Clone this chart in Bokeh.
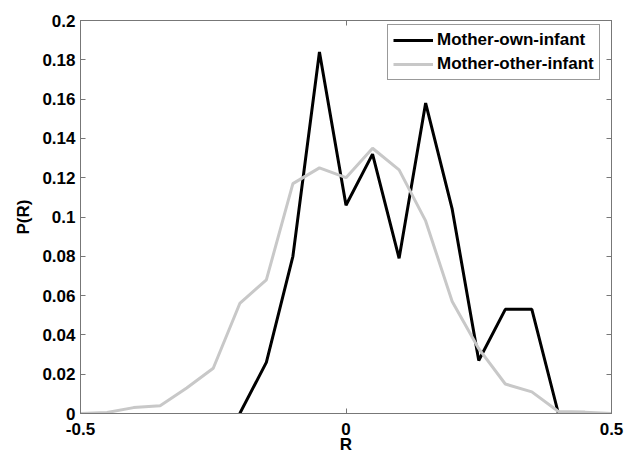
from bokeh.plotting import figure
from bokeh.models import Range1d, LinearAxis, FixedTicker, Legend, LegendItem
from bokeh.embed import file_html
from bokeh.resources import INLINE

# Data
r_own = [-0.2, -0.15, -0.1, -0.05, 0.0, 0.05, 0.1, 0.15, 0.2, 0.25, 0.3, 0.35, 0.4, 0.45]
p_own = [0.0, 0.026, 0.080, 0.184, 0.106, 0.132, 0.079, 0.158, 0.104, 0.027, 0.053, 0.053, 0.0, 0.0]

r_other = [-0.5, -0.45, -0.4, -0.35, -0.3, -0.25, -0.2, -0.15, -0.1, -0.05, 0.0,
           0.05, 0.1, 0.15, 0.2, 0.25, 0.3, 0.35, 0.4, 0.45, 0.5]
p_other = [0.0, 0.0005, 0.003, 0.004, 0.013, 0.023, 0.056, 0.068, 0.117, 0.125, 0.120,
           0.135, 0.124, 0.098, 0.057, 0.033, 0.015, 0.011, 0.001, 0.0007, 0.0]

x_ticks = [-0.5, 0.0, 0.5]
x_tick_labels = ["-0.5", "0", "0.5"]
y_ticks = [0.0, 0.02, 0.04, 0.06, 0.08, 0.1, 0.12, 0.14, 0.16, 0.18, 0.2]
y_tick_labels = ["0", "0.02", "0.04", "0.06", "0.08", "0.1", "0.12", "0.14", "0.16", "0.18", "0.2"]

series_names = ["Mother-own-infant", "Mother-other-infant"]

FONT = "Liberation Sans"
FS = "17px"
AX = "#777777"

p = figure(width=625, height=456, x_range=Range1d(-0.5, 0.5), y_range=Range1d(0, 0.2),
           output_backend="svg", toolbar_location=None,
           min_border_left=80, min_border_right=14, min_border_top=20, min_border_bottom=43,
           x_axis_label="R", y_axis_label="P(R)")
p.background_fill_color = "white"
p.border_fill_color = "white"
p.outline_line_color = AX
p.xgrid.visible = False
p.ygrid.visible = False

l1 = p.line(r_own, p_own, line_color="black", line_width=3)
l2 = p.line(r_other, p_other, line_color="#c8c8c8", line_width=3)

for ax, ticks, labels in ((p.xaxis[0], x_ticks, x_tick_labels), (p.yaxis[0], y_ticks, y_tick_labels)):
    ax.ticker = FixedTicker(ticks=ticks)
    ax.major_label_overrides = {t: l for t, l in zip(ticks, labels)}
    ax.axis_line_color = AX
    ax.major_tick_line_color = AX
    ax.major_tick_in = 5
    ax.major_tick_out = 0
    ax.minor_tick_line_color = None
    ax.major_label_text_font = FONT
    ax.major_label_text_font_size = FS
    ax.major_label_text_font_style = "bold"
    ax.major_label_text_color = "black"
    ax.axis_label_text_font = FONT
    ax.axis_label_text_font_size = FS
    ax.axis_label_text_font_style = "bold"
    ax.axis_label_text_color = "black"

p.xaxis[0].major_label_standoff = 9
p.xaxis[0].axis_label_standoff = -3
p.yaxis[0].major_label_standoff = 5
p.yaxis[0].axis_label_standoff = 6

top = LinearAxis(ticker=FixedTicker(ticks=x_ticks))
right = LinearAxis(ticker=FixedTicker(ticks=y_ticks))
for ax in (top, right):
    ax.axis_line_color = AX
    ax.major_tick_line_color = AX
    ax.major_tick_in = 5
    ax.major_tick_out = 0
    ax.minor_tick_line_color = None
    ax.major_label_text_color = None
    ax.major_label_text_font_size = "1px"
    ax.major_label_standoff = 0
p.add_layout(top, "above")
p.add_layout(right, "right")

legend = Legend(items=[LegendItem(label=series_names[0], renderers=[l1]),
                       LegendItem(label=series_names[1], renderers=[l2])],
                location=(307, 333))
legend.margin = 0
legend.padding = 5
legend.spacing = 4
legend.glyph_width = 40
legend.glyph_height = 20
legend.label_height = 20
legend.label_standoff = 4
legend.label_text_font = FONT
legend.label_text_font_size = FS
legend.label_text_font_style = "bold"
legend.label_text_color = "black"
legend.border_line_color = "#333333"
legend.border_line_width = 1
legend.background_fill_color = "white"
legend.background_fill_alpha = 1
p.add_layout(legend)

open("out.html", "w").write(file_html(p, INLINE))
